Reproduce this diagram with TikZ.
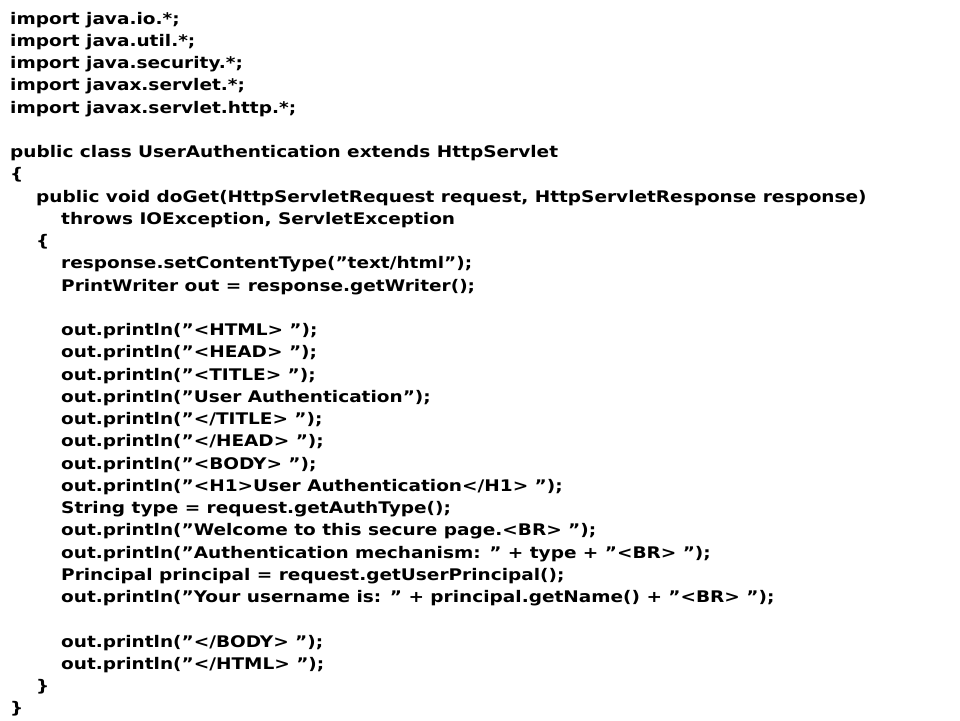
\documentclass[tikz,border=0pt]{standalone}
\usepackage{fontspec}
\setmainfont[FakeStretch=1.156]{DejaVu Sans}
\begin{document}
\begin{tikzpicture}[x=1pt,y=1pt,code/.style={anchor=base west,inner sep=0pt,font=\bfseries\fontsize{16}{18}\selectfont}]
\def\q{\char"22\relax}
\useasboundingbox (0,0) rectangle (960,-720);
\def\L#1#2#3#4{\node[code] (#1) at (#2,{-24-22.25*#3}) {#4};}
\L{l0}{10}{0}{import java.io.*;}
\L{l1}{10}{1}{import java.util.*;}
\L{l2}{10}{2}{import java.security.*;}
\L{l3}{10}{3}{import javax.servlet.*;}
\L{l4}{10}{4}{import javax.servlet.http.*;}
\L{l6}{10}{6}{public class UserAuthentication extends HttpServlet}
\L{l7}{10}{7}{\{}
\L{l8}{36}{8}{public void doGet(HttpServletRequest request, HttpServletResponse response)}
\L{l9}{61}{9}{throws IOException, ServletException}
\L{l10}{36}{10}{\{}
\L{l11}{61}{11}{response.setContentType(\q text/html\q);}
\L{l12}{61}{12}{PrintWriter out = response.getWriter();}
\L{l14}{61}{14}{out.println(\q <HTML> \q);}
\L{l15}{61}{15}{out.println(\q <HEAD> \q);}
\L{l16}{61}{16}{out.println(\q <TITLE> \q);}
\L{l17}{61}{17}{out.println(\q User Authentication\q);}
\L{l18}{61}{18}{out.println(\q </TITLE> \q);}
\L{l19}{61}{19}{out.println(\q </HEAD> \q);}
\L{l20}{61}{20}{out.println(\q <BODY> \q);}
\L{l21}{61}{21}{out.println(\q <H1>User Authentication</H1> \q);}
\L{l22}{61}{22}{String type = request.getAuthType();}
\L{l23}{61}{23}{out.println(\q Welcome to this secure page.<BR> \q);}
\L{l24}{61}{24}{out.println(\q Authentication mechanism: \q{} + type + \q <BR> \q);}
\L{l25}{61}{25}{Principal principal = request.getUserPrincipal();}
\L{l26}{61}{26}{out.println(\q Your username is: \q{} + principal.getName() + \q <BR> \q);}
\L{l28}{61}{28}{out.println(\q </BODY> \q);}
\L{l29}{61}{29}{out.println(\q </HTML> \q);}
\L{l30}{36}{30}{\}}
\L{l31}{10}{31}{\}}
\end{tikzpicture}
\end{document}
